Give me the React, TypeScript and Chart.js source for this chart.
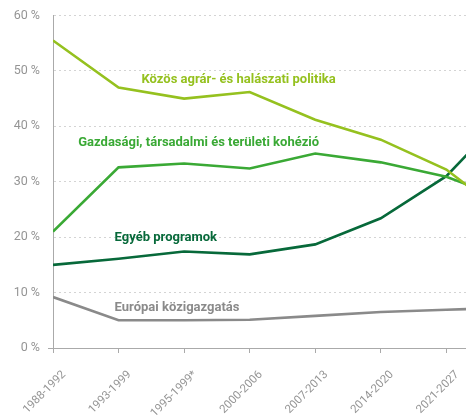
import React, { useEffect, useRef } from "react";
import { Chart, registerables } from "chart.js";

Chart.register(...registerables);

const categories = ["1988-1992", "1993-1999", "1995-1999*", "2000-2006", "2007-2013", "2014-2020", "2021-2027"];
// last value continues past the visible edge of the original chart
const capValues = [55.5, 47.0, 45.0, 46.2, 41.2, 37.6, 32.2, 23.1];
const cohesionValues = [21.0, 32.6, 33.3, 32.4, 35.1, 33.5, 30.9, 26.5];
const otherValues = [15.0, 16.1, 17.4, 16.9, 18.7, 23.4, 31.0, 43.4];
const adminValues = [9.2, 5.0, 5.0, 5.1, 5.8, 6.5, 6.9, 7.3];
const yTicks = [0, 10, 20, 30, 40, 50, 60];

const seriesNames = [
  "Közös agrár- és halászati politika",
  "Gazdasági, társadalmi és területi kohézió",
  "Egyéb programok",
  "Európai közigazgatás",
];
const seriesColors = ["#95c11f", "#3aa935", "#07693a", "#8a8a8a"];
// label anchors in data space: [category index, value]
const labelAnchorX = [1.35, 0.385, 0.94, 0.94];
const labelAnchorY = [48.4, 37.0, 19.9, 7.2];

const toPoints = (vals: number[]) => vals.map((v, i) => ({ x: i, y: v }));

export default function App() {
  const ref = useRef<HTMLCanvasElement | null>(null);
  useEffect(() => {
    document.body.style.margin = "0";
    const labelPlugin = {
      id: "seriesLabels",
      afterDatasetsDraw(chart: any) {
        const { ctx, scales } = chart;
        ctx.save();
        ctx.font = "bold 13px Roboto";
        ctx.textAlign = "left";
        ctx.textBaseline = "middle";
        seriesNames.forEach((name, i) => {
          ctx.fillStyle = seriesColors[i];
          ctx.fillText(name, scales.x.getPixelForValue(labelAnchorX[i]), scales.y.getPixelForValue(labelAnchorY[i]));
        });
        ctx.restore();
      },
    };
    const allValues = [capValues, cohesionValues, otherValues, adminValues];
    const chart = new Chart(ref.current as HTMLCanvasElement, {
      type: "line",
      data: {
        datasets: allValues.map((vals, i) => ({
          label: seriesNames[i],
          data: toPoints(vals),
          borderColor: seriesColors[i],
          borderWidth: 2.6,
          pointRadius: 0,
          tension: 0,
          fill: false,
        })),
      },
      options: {
        animation: false,
        responsive: true,
        maintainAspectRatio: false,
        layout: { padding: { top: 10, right: 0, left: 0, bottom: 0 } },
        plugins: { legend: { display: false }, tooltip: { enabled: false } },
        scales: {
          x: {
            type: "linear",
            min: 0,
            max: 6.3,
            afterFit: (s: any) => { s.height = 69; s.paddingRight = 0; s.paddingLeft = 0; },
            afterBuildTicks: (s: any) => {
              s.ticks = categories.map((_, i) => ({ value: i }));
            },
            ticks: {
              stepSize: 1,
              autoSkip: false,
              minRotation: 45,
              maxRotation: 45,
              padding: 15,
              labelOffset: 11,
              color: "#959595",
              font: { family: "Roboto", size: 11.5, weight: 400 },
              callback: (v: any) => categories[Math.round(Number(v))] ?? "",
            },
            grid: { drawOnChartArea: false, drawTicks: true, tickLength: 5, color: "#aaaaaa" },
            border: { display: true, color: "#aaaaaa", width: 1 },
          },
          y: {
            min: 0,
            max: 60,
            afterFit: (s: any) => { s.width = 53; },
            afterBuildTicks: (s: any) => {
              s.ticks = yTicks.map((v) => ({ value: v }));
            },
            ticks: {
              padding: 8,
              color: "#959595",
              font: { family: "Roboto", size: 12.5, weight: 400 },
              callback: (v: any) => v + " %",
            },
            grid: {
              color: (c: any) => (c.tick && c.tick.value === 0 ? "#aaaaaa" : "#d4d4d4"),
              tickColor: (c: any) => (c.tick && c.tick.value === 0 ? "#aaaaaa" : "rgba(0,0,0,0)"),
              tickLength: 5,
              lineWidth: 1,
            },
            border: { display: true, color: "#aaaaaa", width: 1, dash: [2, 3] },
          },
        },
      },
      plugins: [labelPlugin],
    } as any);
    return () => chart.destroy();
  }, []);
  return (
    <div style={{ width: 466, height: 417, position: "relative" }}>
      <canvas ref={ref} />
    </div>
  );
}
